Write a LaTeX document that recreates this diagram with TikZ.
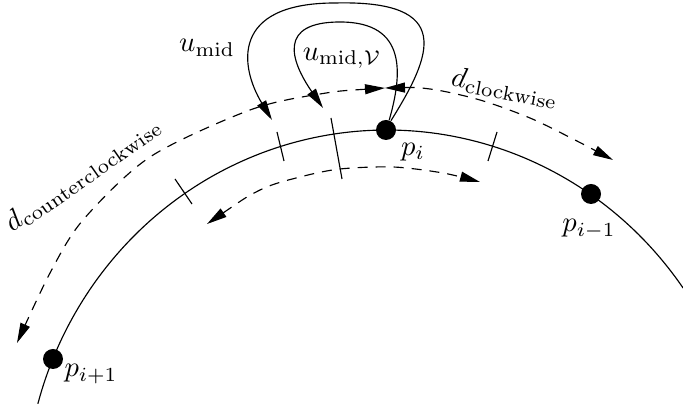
\documentclass[tikz,border=0pt]{standalone}
\usetikzlibrary{arrows.meta}
\begin{document}
\begin{tikzpicture}[x=0.35pt,y=-0.35pt,
  tip/.style={-{Triangle[length=7pt,width=3.5pt]}},
  dtip/.style={{Triangle[length=7pt,width=3.5pt]}-{Triangle[length=7pt,width=3.5pt]}},
  dsh/.style={dash pattern=on 3.5pt off 2.8pt},
  dot/.style={circle,fill=black,inner sep=0pt,minimum size=7pt},
  lbl/.style={inner sep=0pt}]
\useasboundingbox (0,0) rectangle (683,404);
% main curve
\draw plot[domain=-164.7:-35.1,samples=120,variable=\t] ({387+362*cos(\t)},{502+372*sin(\t)});
% points
\node[dot] (pi) at (386,130) {};
\node[dot] (pim) at (591,194) {};
\node[dot] (pip) at (53,359) {};
% labels
\node[lbl] (lpi) at (413,152) {$p_i$};
\node[lbl] (lpim) at (589,229) {$p_{i-1}$};
\node[lbl] (lpip) at (91,374) {$p_{i+1}$};
\node[lbl] (lumid) at (207,48) {$u_{\mathrm{mid}}$};
\node[lbl] (lumidv) at (342,58) {$u_{\mathrm{mid},\mathcal{V}}$};
\node[lbl,rotate=-11] (lcw) at (505,88) {$d_{\mathrm{clockwise}}$};
\node[lbl,rotate=35,anchor=base west] (lccw) at (12,233) {$d_{\mathrm{counterclockwise}}$};
% ticks
\draw (175,179) -- (192,204);
\draw (277,132) -- (284,161);
\draw (331,118) -- (342,179);
\draw (497,132) -- (488,161);
% dashed arcs
\coordinate (top) at (385,88);
\coordinate (ccwend) at (17,343);
\coordinate (cwend) at (613,160);
\coordinate (inl) at (207,224);
\coordinate (inr) at (480,182);
\draw[dsh,dtip] plot[smooth] coordinates {(top) (320,94) (250,110) (150,157) (83,220) (50,273) (ccwend)};
\draw[dsh,dtip] plot[smooth] coordinates {(top) (430,89) (480,100) (530,118) (575,140) (cwend)};
\draw[dsh,dtip] plot[smooth] coordinates {(inl) (260,190) (300,177) (340,169) (393,167) (443,173) (inr)};
% loops
\coordinate (uA) at (272,120);
\coordinate (uB) at (323,108);
\draw[tip] (pi.62) .. controls (432,55) and (455,0) .. (335,3) .. controls (230,3) and (240,67) .. (uA);
\draw[tip] (pi.72) .. controls (402,75) and (408,22) .. (340,22) .. controls (278,22) and (290,60) .. (uB);
\end{tikzpicture}
\end{document}
